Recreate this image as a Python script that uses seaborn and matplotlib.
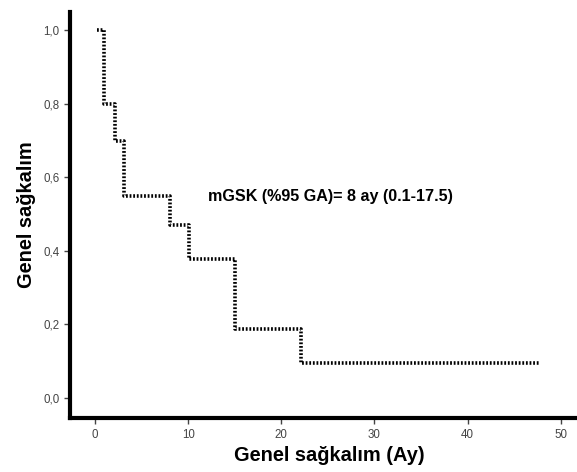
import matplotlib
matplotlib.use("Agg")
import matplotlib.pyplot as plt
import seaborn as sns
import pandas as pd

# Kaplan-Meier adımları (okunan değerler)
times = [0.2, 1.0, 2.1, 3.1, 8.1, 10.1, 15.0, 22.1, 47.8]
survival = [1.0, 0.8, 0.7, 0.55, 0.471, 0.377, 0.188, 0.094, 0.094]
x_ticks = [0, 10, 20, 30, 40, 50]
y_ticks = [0.0, 0.2, 0.4, 0.6, 0.8, 1.0]
y_ticklabels = ["0,0", "0,2", "0,4", "0,6", "0,8", "1,0"]

sns.set_style("white")
plt.rcParams["font.family"] = ["Liberation Sans", "DejaVu Sans"]

df = pd.DataFrame({"t": times, "s": survival})

fig = plt.figure(figsize=(5.77, 4.72), dpi=100)
ax = fig.add_axes([0.121, 0.114, 0.875, 0.861])

sns.lineplot(data=df, x="t", y="s", ax=ax, color="black", linewidth=2.6,
             linestyle=(0, (0.5, 0.5)), drawstyle="steps-post")

ax.set_xlim(-2.7, 51.5)
ax.set_ylim(-0.055, 1.05)
ax.set_xticks(x_ticks)
ax.set_yticks(y_ticks)
ax.set_yticklabels(y_ticklabels)
ax.tick_params(axis="both", labelsize=8.3, colors="#444444", length=4, width=1,
               direction="out", left=True, bottom=True)

for side in ["top", "right"]:
    ax.spines[side].set_visible(False)
for side in ["left", "bottom"]:
    ax.spines[side].set_linewidth(3)
    ax.spines[side].set_color("black")

ax.set_xlabel("Genel sağkalım (Ay)", fontsize=14.4, fontweight="bold",
              color="black")
ax.set_ylabel("Genel sağkalım", fontsize=14.4, fontweight="bold",
              color="black")
ax.xaxis.set_label_coords(0.513, -0.068)
ax.yaxis.set_label_coords(-0.066, 0.5)

ax.text(12.1, 0.548, "mGSK (%95 GA)= 8 ay (0.1-17.5)", fontsize=11.6,
        fontweight="bold", va="center", ha="left", color="black")

fig.savefig("out.png", dpi=100)
